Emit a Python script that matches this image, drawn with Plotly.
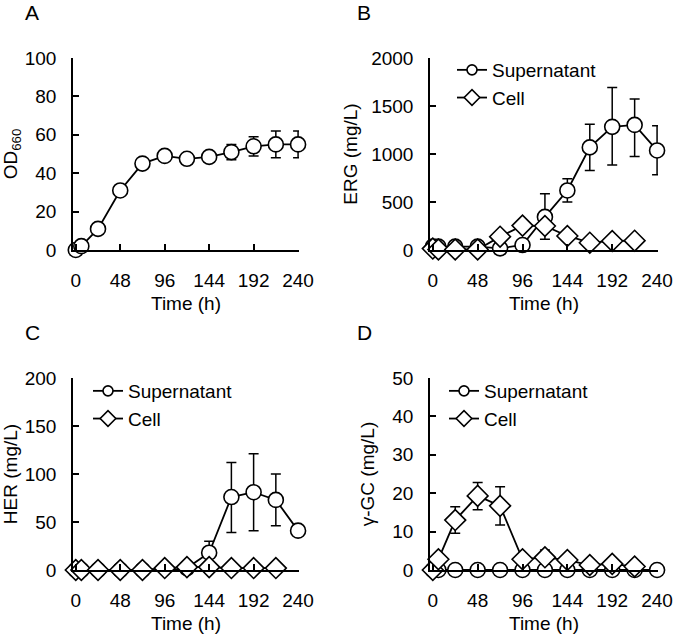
import plotly.graph_objects as go

# ---- data ----
time = [0, 6, 24, 48, 72, 96, 120, 144, 168, 192, 216, 240]
time_cell = [0, 6, 24, 48, 72, 96, 120, 144, 168, 192, 216]

od660 = [0, 2, 11, 31, 45, 49, 47.5, 48.5, 51, 54, 55, 55]
od660_err = [0, 0, 0, 0, 0, 2, 0, 0, 4, 5, 7, 7]

erg_sup = [35, 35, 35, 35, 17, 52, 345, 620, 1069, 1283, 1303, 1037]
erg_sup_up = [0, 0, 0, 0, 0, 0, 240, 121, 241, 411, 269, 257]
erg_sup_dn = [0, 0, 0, 0, 0, 0, 0, 120, 241, 397, 329, 254]
erg_cell = [15, 5, 5, 5, 139, 254, 250, 146, 76, 94, 97]
erg_cell_up = [0, 0, 0, 0, 0, 0, 0, 0, 0, 0, 0]
erg_cell_dn = [0, 0, 0, 0, 0, 0, 139, 0, 0, 0, 0]

her_sup = [0, 0, 0, 0, 0, -1, 2, 18, 76, 81, 73, 41]
her_sup_up = [0, 0, 0, 0, 0, 0, 0, 12, 36, 40, 27, 0]
her_sup_dn = [0, 0, 0, 0, 0, 0, 0, 0, 37, 40, 27, 0]
her_cell = [0, 0, 0, 0, 0, 2, 3, 3, 2, 2, 2]

ggc_sup = [0, 0, 0, 0, 0, 0, 0, 0, 0, 0, 0, 0]
ggc_cell = [0, 2.8, 13, 19.3, 16.7, 2.8, 3.3, 2.6, 1.3, 1.6, 0.9]
ggc_cell_up = [0, 0, 3.5, 3.5, 5.0, 0, 1.9, 0, 0, 0, 0]
ggc_cell_dn = [0, 0, 3.4, 3.6, 5.0, 0, 0, 0, 0, 0, 0]

x_ticks = [0, 48, 96, 144, 192, 240]
series_names = ["Supernatant", "Cell"]

FONT = "Liberation Sans, Arial, sans-serif"
FS = 19
W, H = 673, 635

fig = go.Figure()

def err(up, dn):
    return dict(type="data", array=up, arrayminus=dn, symmetric=False,
                color="black", thickness=1.5, width=5)

def sup_trace(x, y, xa, ya, e=None):
    return go.Scatter(x=x, y=y, xaxis=xa, yaxis=ya, mode="lines+markers",
                      name=series_names[0], showlegend=False,
                      line=dict(color="black", width=1.8),
                      marker=dict(symbol="circle", size=15, color="white",
                                  line=dict(color="black", width=1.6)),
                      error_y=e, cliponaxis=False)

def cell_trace(x, y, xa, ya, e=None):
    return go.Scatter(x=x, y=y, xaxis=xa, yaxis=ya, mode="lines+markers",
                      name=series_names[1], showlegend=False,
                      line=dict(color="black", width=1.8),
                      marker=dict(symbol="diamond", size=16, color="white",
                                  line=dict(color="black", width=1.6)),
                      error_y=e, cliponaxis=False)

def legend_entries(xa, ya, legend):
    out = []
    for name, sym, sz in [(series_names[0], "circle", 10), (series_names[1], "diamond", 12)]:
        out.append(go.Scatter(x=[None], y=[None], xaxis=xa, yaxis=ya, mode="lines+markers",
                              name=name, legend=legend, showlegend=True,
                              line=dict(color="black", width=1.8),
                              marker=dict(symbol=sym, size=sz, color="white",
                                          line=dict(color="black", width=1.6))))
    return out

# A
fig.add_trace(sup_trace(time, od660, "x", "y", err(od660_err, od660_err)))
# B
fig.add_trace(sup_trace(time, erg_sup, "x2", "y2", err(erg_sup_up, erg_sup_dn)))
fig.add_trace(cell_trace(time_cell, erg_cell, "x2", "y2", err(erg_cell_up, erg_cell_dn)))
# C
fig.add_trace(sup_trace(time, her_sup, "x3", "y3", err(her_sup_up, her_sup_dn)))
fig.add_trace(cell_trace(time_cell, her_cell, "x3", "y3"))
# D
fig.add_trace(sup_trace(time, ggc_sup, "x4", "y4"))
fig.add_trace(cell_trace(time_cell, ggc_cell, "x4", "y4", err(ggc_cell_up, ggc_cell_dn)))

for tr in legend_entries("x2", "y2", "legend") + legend_entries("x3", "y3", "legend2") + legend_entries("x4", "y4", "legend3"):
    fig.add_trace(tr)

def fx(px):
    return px / W

def fy(py):
    return 1 - py / H

def px_x(a, b):
    return [fx(a), fx(b)]

def px_y(top, bottom):
    return [fy(bottom), fy(top)]

axcommon = dict(showgrid=False, zeroline=False, showline=True, linecolor="black",
                linewidth=1.5, ticks="inside", ticklen=6, tickwidth=1.5, automargin=False,
                tickcolor="black", tickfont=dict(size=FS, color="black", family=FONT))

xdomA, xdomB = px_x(73, 299), px_x(430, 658)
ydomT, ydomB = px_y(58, 250), px_y(378, 570)

def xaxis(dom, anchor):
    d = dict(axcommon)
    d.update(domain=dom, anchor=anchor, range=[-3, 241], tickvals=x_ticks,
             title=dict(text="Time (h)", font=dict(size=FS, color="black", family=FONT), standoff=7),
             ticklabelstandoff=12)
    return d

def yaxis(dom, anchor, rng, dtick, title, standoff=6):
    d = dict(axcommon)
    d.update(domain=dom, anchor=anchor, range=rng, dtick=dtick,
             title=dict(text=title, font=dict(size=FS, color="black", family=FONT), standoff=standoff),
             ticklabelstandoff=11)
    return d

fig.update_layout(
    width=W, height=H,
    margin=dict(l=0, r=0, t=0, b=0, autoexpand=False),
    paper_bgcolor="white", plot_bgcolor="white",
    font=dict(family=FONT, size=FS, color="black"),
    xaxis=xaxis(xdomA, "y"),
    yaxis=yaxis(ydomT, "x", [0, 100], 20, "OD<sub>660</sub>", 16),
    xaxis2=xaxis(xdomB, "y2"),
    yaxis2=yaxis(ydomT, "x2", [0, 2000], 500, "ERG (mg/L)", 9),
    xaxis3=xaxis(xdomA, "y3"),
    yaxis3=yaxis(ydomB, "x3", [0, 200], 50, "HER (mg/L)", 7),
    xaxis4=xaxis(xdomB, "y4"),
    yaxis4=yaxis(ydomB, "x4", [0, 50], 10, "γ-GC (mg/L)", 13),
)

leg = dict(font=dict(size=FS, color="black", family=FONT), bgcolor="rgba(0,0,0,0)",
           xanchor="left", yanchor="top", tracegroupgap=0, itemwidth=30)
fig.update_layout(
    legend=dict(leg, x=fx(452), y=fy(51)),
    legend2=dict(leg, x=fx(88), y=fy(372)),
    legend3=dict(leg, x=fx(444), y=fy(372)),
)

labels = [("A", 32, 12), ("B", 364, 12), ("C", 32, 332), ("D", 364, 332)]
for t, x, y in labels:
    fig.add_annotation(text=t, x=fx(x), y=fy(y), xref="paper", yref="paper",
                       showarrow=False, font=dict(size=21, color="black", family=FONT),
                       xanchor="center", yanchor="middle")

fig.write_html("out.html", config={"displayModeBar": False},
               post_script="document.body.style.margin='0px';")
